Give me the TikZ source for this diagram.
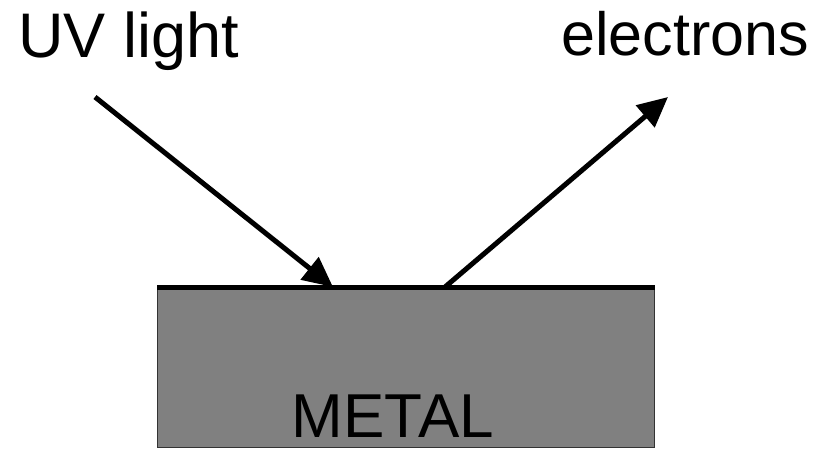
\documentclass[tikz,border=0pt]{standalone}
\usepackage{fontspec}
\setmainfont{Liberation Sans}
\usetikzlibrary{arrows.meta}
\begin{document}
\begin{tikzpicture}[x=1pt,y=-1pt,
  lbl/.style={inner sep=0pt,font=\fontsize{61}{70}\selectfont},
  ray/.style={line width=5pt,-{Triangle[length=30pt,width=28pt]}}]
\useasboundingbox (0,0) rectangle (829,448);
\node[draw=black!80,line width=1pt,fill={rgb,255:red,128;green,128;blue,128},
  minimum width=497pt,minimum height=160pt,inner sep=0pt,anchor=north west] (metal) at (157,287) {};
\draw[line width=5pt] (metal.north west) -- (metal.north east);
\node[lbl,anchor=base west,font=\fontsize{63}{70}\selectfont] (uv) at (18,57) {UV light};
\node[lbl,anchor=base east] (el) at (809,55) {electrons};
\node[lbl,anchor=base,font=\fontsize{62}{70}\selectfont] (mt) at (393,437) {METAL};
\coordinate (a1) at (95,97);
\coordinate (a2) at (333,287);
\coordinate (b1) at (445,287);
\coordinate (b2) at (668,97);
\draw[ray] (a1) -- (a2);
\draw[ray] (b1) -- (b2);
\end{tikzpicture}
\end{document}
